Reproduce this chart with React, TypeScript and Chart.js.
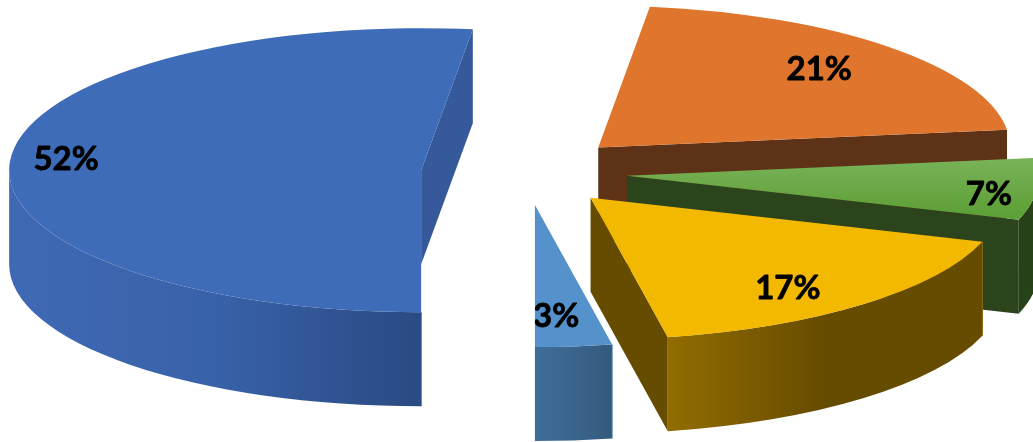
import React, { useEffect, useRef } from "react";
import { Chart, registerables } from "chart.js";

Chart.register(...registerables);

// Shares of the whole, in percent, clockwise from the bottom of the pie.
const sliceNames = ["A", "B", "C", "D", "E"];
const shares = [52, 21, 7, 17, 3];

// Surface colours. A pair means a vertical gradient on the lid of the slice.
const lidColors: (string | [string, string])[] = ["#3F6CB8", "#E0752D", ["#79B258", "#5A9E33"], "#F3B800", "#5592CB"];
const wallStops = [
  ["#4069B5", "#3862A8", "#2A4A83"],
  ["#5E3216", "#5E3216", "#5E3216"],
  ["#274218", "#274218", "#274218"],
  ["#916C00", "#664C00", "#664C00"],
  ["#3F6D99", "#3A648C", "#34597C"],
];
const faceColors = ["#35599B", "#5E3216", "#2C441C", "#664C00", "#3F6D99"];
const edgeColors = ["#2F5597", "#6E3C1C", "#5E9A3C", "#8A6A10", "#4A7FB0"];

// Explosion of each slice along its bisector, as a fraction of the radius.
const explode = [0.255, 0.248, 0.246, 0.237, 0.23];
// Where each percentage sits: position across the slice's sweep, and out along the radius.
const labelSweep = [0.511, 0.483, 0.6, 0.567, 0.65];
const labelRadius = [0.866, 0.776, 0.887, 0.79, 0.78];
// Back-to-front painting order.
const paintOrder = [1, 2, 3, 4, 0];

const RADIUS = 412;
const SQUASH = 0.3447;
const DEPTH = 94;

type ArcGeom = { x: number; y: number; a0: number; a1: number; r: number; ax: number; ay: number };

function geometry(arc: any, i: number): ArcGeom {
  const { x, y, startAngle, endAngle, outerRadius } = arc.getProps(["x", "y", "startAngle", "endAngle", "outerRadius"]);
  const mid = (startAngle + endAngle) / 2;
  return {
    x,
    y,
    a0: startAngle,
    a1: endAngle,
    r: outerRadius,
    ax: x + explode[i] * outerRadius * Math.cos(mid),
    ay: y + explode[i] * outerRadius * SQUASH * Math.sin(mid),
  };
}

function drawFace(ctx: CanvasRenderingContext2D, g: ArcGeom, angle: number, i: number) {
  const px = g.ax + g.r * Math.cos(angle);
  const py = g.ay + g.r * SQUASH * Math.sin(angle);
  ctx.beginPath();
  ctx.moveTo(g.ax, g.ay);
  ctx.lineTo(px, py);
  ctx.lineTo(px, py + DEPTH);
  ctx.lineTo(g.ax, g.ay + DEPTH);
  ctx.closePath();
  ctx.fillStyle = faceColors[i];
  ctx.fill();
}

function drawWall(ctx: CanvasRenderingContext2D, g: ArcGeom, i: number) {
  // Only the part of the rim on the lower half of the ellipse faces the viewer.
  for (const base of [0, Math.PI * 2]) {
    const from = Math.max(g.a0, base);
    const to = Math.min(g.a1, base + Math.PI);
    if (to <= from) continue;
    const rry = g.r * SQUASH;
    const x0 = g.ax + g.r * Math.cos(to);
    const x1 = g.ax + g.r * Math.cos(from);
    const grad = ctx.createLinearGradient(x0, 0, x1, 0);
    grad.addColorStop(0, wallStops[i][0]);
    grad.addColorStop(0.5, wallStops[i][1]);
    grad.addColorStop(1, wallStops[i][2]);
    ctx.beginPath();
    ctx.ellipse(g.ax, g.ay, g.r, rry, 0, from, to);
    ctx.ellipse(g.ax, g.ay + DEPTH, g.r, rry, 0, to, from, true);
    ctx.closePath();
    ctx.fillStyle = grad;
    ctx.fill();
    // Thin seam down the rim where it meets the radial face.
    const sx = g.ax + g.r * Math.cos(from);
    const sy = g.ay + rry * Math.sin(from);
    if (from > base) {
      ctx.beginPath();
      ctx.moveTo(sx, sy);
      ctx.lineTo(sx, sy + DEPTH);
      ctx.strokeStyle = edgeColors[i];
      ctx.lineWidth = 1;
      ctx.stroke();
    }
  }
}

// Extrudes the flat pie: walls from the arc geometry, lids through the arc element itself.
const extrudedPie = {
  id: "extrudedPie",
  beforeDatasetsDraw(chart: any) {
    const ctx: CanvasRenderingContext2D = chart.ctx;
    const arcs = chart.getDatasetMeta(0).data;
    for (const i of paintOrder) {
      const g = geometry(arcs[i], i);
      ctx.save();
      if (Math.cos(g.a0) < -1e-6) drawFace(ctx, g, g.a0, i);
      if (Math.cos(g.a1) > 1e-6) drawFace(ctx, g, g.a1, i);
      drawWall(ctx, g, i);
      ctx.translate(g.ax, g.ay);
      ctx.scale(1, SQUASH);
      ctx.translate(-g.x, -g.y);
      arcs[i].draw(ctx);
      ctx.restore();
    }
    ctx.font = "bold 33px Lato";
    ctx.fillStyle = "#000000";
    ctx.strokeStyle = "#000000";
    ctx.lineWidth = 0.8;
    ctx.lineJoin = "round";
    ctx.textAlign = "center";
    ctx.textBaseline = "middle";
    arcs.forEach((arc: any, i: number) => {
      const g = geometry(arc, i);
      const angle = g.a0 + (g.a1 - g.a0) * labelSweep[i];
      const lx = g.ax + labelRadius[i] * g.r * Math.cos(angle);
      const ly = g.ay + labelRadius[i] * g.r * SQUASH * Math.sin(angle) + 1;
      ctx.save();
      // A label never spills past the lid of its own slice.
      ctx.beginPath();
      ctx.moveTo(g.ax, g.ay);
      ctx.ellipse(g.ax, g.ay, g.r + 60, (g.r + 60) * SQUASH, 0, g.a0, g.a1);
      ctx.closePath();
      ctx.clip();
      ctx.fillText(`${shares[i]}%`, lx, ly);
      ctx.strokeText(`${shares[i]}%`, lx, ly);
      ctx.restore();
    });
    return false;
  },
};

export default function App() {
  const ref = useRef<HTMLCanvasElement>(null);
  useEffect(() => {
    document.body.style.margin = "0";
    const chart = new Chart(ref.current!, {
      type: "pie",
      data: {
        labels: sliceNames,
        datasets: [
          {
            data: shares,
            borderWidth: 0,
            hoverOffset: 0,
            backgroundColor: (c: any) => {
              const col = lidColors[c.dataIndex];
              if (typeof col === "string") return col;
              const area = c.chart.chartArea;
              const cy = area ? (area.top + area.bottom) / 2 : 172;
              const grad = c.chart.ctx.createLinearGradient(0, cy - 49, 0, cy + 130);
              grad.addColorStop(0, col[0]);
              grad.addColorStop(1, col[1]);
              return grad;
            },
          },
        ],
      },
      options: {
        responsive: false,
        animation: false,
        events: [],
        rotation: 180,
        radius: RADIUS,
        layout: { padding: { left: 19, bottom: 97 } },
        plugins: { legend: { display: false }, tooltip: { enabled: false } },
      },
      plugins: [extrudedPie],
    } as any);
    return () => chart.destroy();
  }, []);
  return <canvas ref={ref} width={1033} height={442} style={{ display: "block" }} />;
}
